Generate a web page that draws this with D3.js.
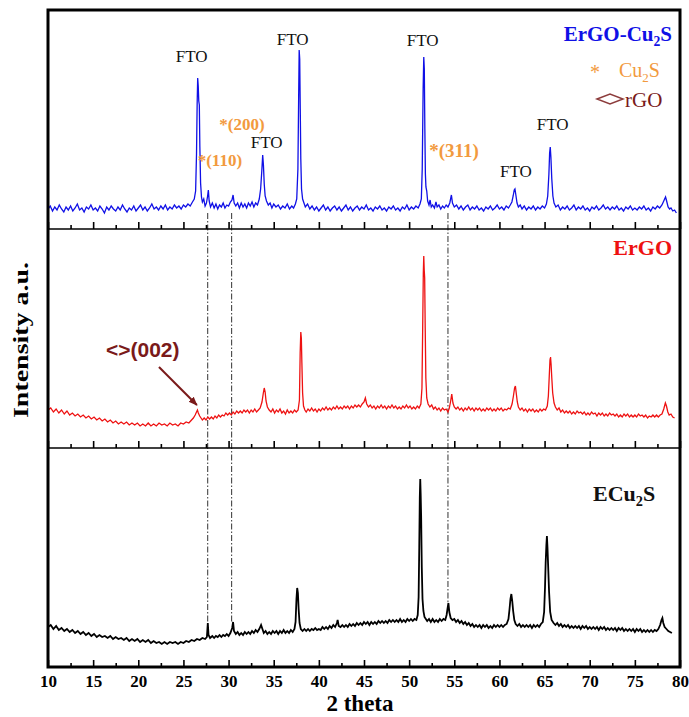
<!DOCTYPE html>
<html><head><meta charset="utf-8">
<script src="https://cdn.jsdelivr.net/npm/d3@7/dist/d3.min.js"></script>
<style>body{margin:0;background:#fff}svg{display:block}</style>
</head><body>
<svg id="chart" width="689" height="717"></svg>
<script>
// ---------- DATA ----------
const majorTicks = [10,15,20,25,30,35,40,45,50,55,60,65,70,75,80];
const minorTicks = [12.5,17.5,22.5,27.5,32.5,37.5,42.5,47.5,52.5,57.5,62.5,67.5,72.5,77.5];

// ErGO-Cu2S (top panel) [2theta, intensity a.u.]
const ergoCu2S = [[10,20],[10.25,23],[10.5,18],[10.75,22],[11,19],[11.25,24],[11.5,20],[11.75,17],[12,22],[12.25,19],[12.5,23],[12.75,18],[13,21],[13.25,25],[13.5,19],[13.75,21],[14,17],[14.25,22],[14.5,20],[14.75,24],[15,19],[15.25,21],[15.5,18],[15.75,23],[16,20],[16.25,16],[16.5,22],[16.75,19],[17,23],[17.25,20],[17.5,18],[17.75,22],[18,19],[18.25,24],[18.5,20],[18.75,17],[19,21],[19.25,19],[19.5,23],[19.75,18],[20,21],[20.25,24],[20.5,19],[20.75,22],[21,18],[21.25,21],[21.5,25],[21.75,20],[22,22],[22.25,19],[22.5,23],[22.75,20],[23,24],[23.25,19],[23.5,22],[23.75,20],[24,24],[24.25,21],[24.5,23],[24.75,20],[25,24],[25.25,22],[25.5,25],[25.75,23],[26,27],[26.2,30],[26.35,38],[26.45,75],[26.52,125],[26.58,151],[26.64,143],[26.7,128],[26.76,124],[26.82,82],[26.9,46],[27,32],[27.1,27],[27.25,30],[27.4,23],[27.55,26],[27.68,33],[27.76,39],[27.85,28],[28,22],[28.2,26],[28.4,21],[28.6,25],[28.8,20],[29,24],[29.2,22],[29.4,26],[29.6,21],[29.8,24],[30,23],[30.2,27],[30.38,29],[30.5,34],[30.62,26],[30.8,23],[31,26],[31.2,21],[31.4,26],[31.6,22],[31.8,25],[32,21],[32.2,26],[32.4,23],[32.6,27],[32.8,22],[33,26],[33.2,24],[33.4,30],[33.55,40],[33.68,58],[33.78,74],[33.86,64],[33.95,45],[34.05,33],[34.2,28],[34.4,24],[34.6,26],[34.8,21],[35,25],[35.25,22],[35.5,24],[35.75,20],[36,23],[36.25,21],[36.5,25],[36.75,20],[37,23],[37.2,21],[37.4,25],[37.55,30],[37.68,60],[37.76,130],[37.82,179],[37.88,170],[37.94,120],[38,70],[38.08,40],[38.2,30],[38.35,26],[38.5,22],[38.75,25],[39,20],[39.25,23],[39.5,19],[39.75,22],[40,18],[40.25,21],[40.5,24],[40.75,19],[41,22],[41.25,18],[41.5,21],[41.75,23],[42,19],[42.25,22],[42.5,18],[42.75,21],[43,24],[43.25,19],[43.5,22],[43.75,18],[44,21],[44.25,23],[44.5,19],[44.75,22],[45,20],[45.25,24],[45.5,19],[45.75,21],[46,18],[46.25,22],[46.5,20],[46.75,23],[47,19],[47.25,21],[47.5,18],[47.75,22],[48,20],[48.25,23],[48.5,19],[48.75,21],[49,18],[49.25,22],[49.5,20],[49.75,24],[50,19],[50.25,22],[50.5,20],[50.75,23],[51,21],[51.2,25],[51.35,30],[51.45,60],[51.55,140],[51.62,172],[51.68,160],[51.74,100],[51.8,55],[51.86,42],[51.95,38],[52.05,28],[52.2,24],[52.32,29],[52.45,22],[52.6,24],[52.8,21],[52.97,27],[53.1,22],[53.3,24],[53.5,20],[53.7,23],[53.9,21],[54.1,24],[54.3,22],[54.5,26],[54.68,34],[54.8,26],[55,22],[55.25,24],[55.5,20],[55.75,23],[56,19],[56.25,22],[56.5,24],[56.75,19],[57,22],[57.25,20],[57.5,23],[57.75,19],[58,21],[58.25,18],[58.5,22],[58.75,20],[59,23],[59.25,19],[59.5,21],[59.75,24],[60,20],[60.25,22],[60.5,19],[60.75,23],[61,21],[61.2,24],[61.38,27],[61.52,33],[61.64,39],[61.72,40],[61.82,34],[61.95,26],[62.1,22],[62.3,24],[62.5,20],[62.75,23],[63,19],[63.25,22],[63.5,20],[63.75,23],[64,19],[64.25,22],[64.5,20],[64.75,23],[65,21],[65.2,25],[65.35,33],[65.48,55],[65.56,76],[65.63,82],[65.7,72],[65.8,50],[65.92,33],[66.05,26],[66.25,22],[66.5,24],[66.75,19],[67,22],[67.25,20],[67.5,23],[67.75,19],[68,21],[68.25,24],[68.5,19],[68.75,22],[69,20],[69.25,23],[69.5,19],[69.75,21],[70,18],[70.25,22],[70.5,20],[70.75,23],[71,19],[71.25,21],[71.5,24],[71.75,20],[72,22],[72.25,19],[72.5,22],[72.75,20],[73,23],[73.25,19],[73.5,21],[73.75,18],[74,22],[74.25,20],[74.5,23],[74.75,19],[75,21],[75.25,19],[75.5,22],[75.75,20],[76,23],[76.25,19],[76.5,21],[76.75,18],[77,22],[77.25,20],[77.5,23],[77.75,21],[78,24],[78.2,28],[78.4,32],[78.52,28],[78.68,22],[78.85,20],[79,21],[79.2,18],[79.4,19],[79.6,16]];

// ErGO (middle panel)
const ergo = [[10,38],[10.3,40],[10.6,36],[10.9,39],[11.2,35],[11.5,38],[11.8,34],[12.1,37],[12.4,33],[12.7,35],[13,32],[13.3,34],[13.6,31],[13.9,33],[14.2,30],[14.5,32],[14.8,29],[15.1,31],[15.4,28],[15.7,30],[16,27],[16.3,29],[16.6,26],[16.9,28],[17.2,25],[17.5,27],[17.8,24],[18.1,26],[18.4,24],[18.7,26],[19,23],[19.3,25],[19.6,23],[19.9,25],[20.2,22],[20.5,24],[20.8,22],[21.1,25],[21.4,22],[21.7,24],[22,22],[22.3,25],[22.6,23],[22.9,24],[23.2,22],[23.5,25],[23.8,23],[24.1,24],[24.4,22],[24.7,25],[25,24],[25.3,26],[25.6,25],[25.9,28],[26.1,30],[26.3,33],[26.45,36],[26.55,38],[26.65,35],[26.8,32],[26.95,30],[27.1,28],[27.3,30],[27.5,28],[27.7,31],[27.9,29],[28.1,31],[28.3,29],[28.5,32],[28.7,30],[28.9,33],[29.1,31],[29.3,33],[29.5,32],[29.7,35],[29.9,33],[30.1,35],[30.3,33],[30.5,36],[30.7,34],[30.9,37],[31.1,35],[31.3,37],[31.5,35],[31.7,38],[31.9,36],[32.1,38],[32.3,35],[32.5,38],[32.7,36],[32.9,39],[33.1,36],[33.3,38],[33.5,40],[33.7,46],[33.85,55],[33.95,60],[34.05,56],[34.15,47],[34.3,41],[34.5,38],[34.7,36],[34.9,39],[35.1,35],[35.3,38],[35.5,36],[35.7,39],[35.9,35],[36.1,37],[36.3,34],[36.5,38],[36.7,35],[36.9,37],[37.1,35],[37.3,38],[37.5,36],[37.7,38],[37.85,48],[37.93,95],[38,116],[38.06,110],[38.12,85],[38.2,55],[38.3,42],[38.45,38],[38.6,36],[38.8,39],[39,37],[39.2,40],[39.4,37],[39.6,39],[39.8,36],[40,39],[40.2,37],[40.4,40],[40.6,38],[40.8,41],[41,38],[41.2,40],[41.4,38],[41.6,41],[41.8,39],[42,42],[42.2,39],[42.4,41],[42.6,39],[42.8,42],[43,40],[43.2,42],[43.4,39],[43.6,42],[43.8,40],[44,43],[44.2,41],[44.4,43],[44.6,41],[44.8,44],[45,46],[45.15,50],[45.3,44],[45.5,41],[45.7,43],[45.9,40],[46.1,42],[46.3,39],[46.5,42],[46.7,40],[46.9,43],[47.1,40],[47.3,42],[47.5,39],[47.7,42],[47.9,40],[48.1,43],[48.3,40],[48.5,42],[48.7,39],[48.9,41],[49.1,39],[49.3,42],[49.5,40],[49.7,43],[49.9,40],[50.1,42],[50.3,39],[50.5,41],[50.7,39],[50.9,42],[51.1,40],[51.3,44],[51.42,60],[51.5,120],[51.57,175],[51.62,192],[51.67,178],[51.72,170],[51.78,120],[51.85,70],[51.95,50],[52.1,44],[52.3,41],[52.5,43],[52.7,39],[52.9,41],[53.1,38],[53.3,40],[53.5,37],[53.7,40],[53.9,38],[54.1,39],[54.3,36],[54.45,40],[54.6,47],[54.72,54],[54.85,45],[55,41],[55.2,39],[55.4,41],[55.6,38],[55.8,40],[56,37],[56.2,40],[56.4,38],[56.6,41],[56.8,38],[57,40],[57.2,37],[57.4,40],[57.6,38],[57.8,40],[58,37],[58.2,39],[58.4,37],[58.6,40],[58.8,38],[59,40],[59.2,37],[59.4,39],[59.6,37],[59.8,40],[60,38],[60.2,40],[60.4,37],[60.6,39],[60.8,38],[61,40],[61.2,39],[61.4,44],[61.55,52],[61.68,60],[61.77,62],[61.86,55],[61.98,46],[62.1,41],[62.3,38],[62.5,40],[62.7,37],[62.9,39],[63.1,36],[63.3,39],[63.5,37],[63.7,39],[63.9,36],[64.1,38],[64.3,36],[64.5,39],[64.7,37],[64.9,39],[65.1,38],[65.3,42],[65.42,52],[65.52,72],[65.6,88],[65.66,91],[65.72,84],[65.8,70],[65.9,55],[66.05,45],[66.2,41],[66.4,38],[66.6,40],[66.8,36],[67,38],[67.2,35],[67.4,37],[67.6,35],[67.8,37],[68,34],[68.2,36],[68.4,34],[68.6,37],[68.8,35],[69,36],[69.2,34],[69.4,36],[69.6,33],[69.8,35],[70,33],[70.2,36],[70.4,34],[70.6,35],[70.8,32],[71,35],[71.2,33],[71.4,35],[71.6,32],[71.8,34],[72,32],[72.2,35],[72.4,33],[72.6,34],[72.8,32],[73,34],[73.2,31],[73.4,33],[73.6,31],[73.8,34],[74,32],[74.2,34],[74.4,31],[74.6,33],[74.8,31],[75,33],[75.2,31],[75.4,34],[75.6,32],[75.8,33],[76,31],[76.2,33],[76.4,30],[76.6,32],[76.8,31],[77,33],[77.2,31],[77.4,33],[77.6,31],[77.8,33],[78,34],[78.2,39],[78.38,45],[78.5,42],[78.65,36],[78.8,33],[79,34],[79.2,31],[79.4,30]];

// ECu2S (bottom panel)
const ecu2s = [[10,40],[10.3,42],[10.6,38],[10.9,41],[11.2,37],[11.5,39],[11.8,36],[12.1,38],[12.4,35],[12.7,37],[13,34],[13.3,36],[13.6,33],[13.9,35],[14.2,32],[14.5,34],[14.8,31],[15.1,33],[15.4,30],[15.7,32],[16,30],[16.3,31],[16.6,29],[16.9,31],[17.2,28],[17.5,30],[17.8,28],[18.1,29],[18.4,27],[18.7,29],[19,26],[19.3,28],[19.6,26],[19.9,28],[20.2,25],[20.5,27],[20.8,25],[21.1,27],[21.4,24],[21.7,26],[22,24],[22.3,25],[22.6,23],[22.9,25],[23.2,23],[23.5,25],[23.8,24],[24.1,25],[24.4,23],[24.7,25],[25,24],[25.3,26],[25.6,25],[25.9,27],[26.2,26],[26.5,28],[26.8,27],[27.1,29],[27.4,28],[27.6,30],[27.7,44],[27.78,32],[27.95,29],[28.2,31],[28.4,29],[28.6,31],[28.8,30],[29,32],[29.2,30],[29.4,32],[29.6,31],[29.8,33],[30,31],[30.2,34],[30.4,39],[30.5,45],[30.6,36],[30.8,33],[31,35],[31.2,32],[31.4,34],[31.6,32],[31.8,35],[32,33],[32.2,35],[32.4,33],[32.6,36],[32.8,34],[33,37],[33.2,35],[33.4,38],[33.6,42],[33.75,38],[33.9,34],[34.1,36],[34.3,33],[34.5,35],[34.7,33],[34.9,36],[35.1,34],[35.3,36],[35.5,33],[35.7,36],[35.9,34],[36.1,37],[36.3,34],[36.5,36],[36.7,34],[36.9,37],[37.1,35],[37.3,38],[37.42,45],[37.52,68],[37.6,79],[37.68,74],[37.76,58],[37.86,44],[38,38],[38.2,36],[38.4,38],[38.6,36],[38.8,38],[39,36],[39.2,38],[39.4,37],[39.6,39],[39.8,37],[40,38],[40.2,37],[40.4,40],[40.6,38],[40.8,40],[41,38],[41.2,41],[41.4,39],[41.6,42],[41.8,40],[42,44],[42.08,47],[42.2,41],[42.4,40],[42.6,42],[42.8,40],[43,42],[43.2,40],[43.4,43],[43.6,41],[43.8,43],[44,41],[44.2,44],[44.4,42],[44.6,44],[44.8,42],[45,45],[45.2,43],[45.4,45],[45.6,42],[45.8,45],[46,43],[46.2,45],[46.4,43],[46.6,46],[46.8,44],[47,46],[47.2,44],[47.4,46],[47.6,44],[47.8,47],[48,45],[48.2,47],[48.4,45],[48.6,47],[48.8,45],[49,48],[49.2,45],[49.4,47],[49.6,45],[49.8,48],[50,46],[50.2,48],[50.4,46],[50.6,48],[50.8,47],[50.95,52],[51.05,70],[51.12,120],[51.18,170],[51.23,188],[51.28,172],[51.33,150],[51.4,100],[51.48,68],[51.58,56],[51.7,50],[51.85,48],[52,46],[52.2,48],[52.4,45],[52.6,48],[52.8,45],[53,47],[53.2,45],[53.4,48],[53.6,46],[53.8,48],[54,47],[54.15,52],[54.28,60],[54.35,64],[54.45,55],[54.6,49],[54.8,47],[55,48],[55.2,45],[55.4,47],[55.6,44],[55.8,46],[56,43],[56.2,45],[56.4,42],[56.6,44],[56.8,41],[57,43],[57.2,40],[57.4,42],[57.6,40],[57.8,42],[58,39],[58.2,42],[58.4,40],[58.6,42],[58.8,39],[59,41],[59.2,39],[59.4,42],[59.6,40],[59.8,42],[60,40],[60.2,42],[60.4,40],[60.6,42],[60.8,43],[61,48],[61.12,58],[61.22,68],[61.32,73],[61.42,66],[61.52,56],[61.65,47],[61.8,43],[62,41],[62.2,43],[62.4,40],[62.6,42],[62.8,40],[63,42],[63.2,40],[63.4,42],[63.6,39],[63.8,42],[64,40],[64.2,42],[64.4,40],[64.6,43],[64.8,45],[64.95,55],[65.05,80],[65.12,104],[65.2,122],[65.26,131],[65.32,120],[65.4,100],[65.5,75],[65.62,55],[65.78,47],[66,44],[66.2,42],[66.4,44],[66.6,41],[66.8,43],[67,40],[67.2,42],[67.4,40],[67.6,42],[67.8,39],[68,41],[68.2,39],[68.4,41],[68.6,39],[68.8,41],[69,38],[69.2,41],[69.4,39],[69.6,41],[69.8,38],[70,40],[70.2,38],[70.4,40],[70.6,38],[70.8,40],[71,37],[71.2,40],[71.4,38],[71.6,40],[71.8,37],[72,39],[72.2,37],[72.4,39],[72.6,37],[72.8,39],[73,36],[73.2,39],[73.4,37],[73.6,39],[73.8,36],[74,38],[74.2,36],[74.4,38],[74.6,36],[74.8,38],[75,35],[75.2,38],[75.4,36],[75.6,38],[75.8,35],[76,37],[76.2,35],[76.4,37],[76.6,35],[76.8,37],[77,35],[77.2,37],[77.4,36],[77.6,38],[77.8,42],[77.95,47],[78.05,49],[78.15,44],[78.3,40],[78.5,38],[78.7,36],[78.9,35],[79.1,34]];

// Annotations (2theta, intensity level in top panel)
const ftoLabels = [[25.91,167],[37.10,184],[34.22,81],[51.49,183],[61.83,52],[65.89,99]];
const cu2sLabels = [["*(200)",28.97,99,17],["*(110)",26.58,63,17],["*(311)",52.23,72,19]];
const refLines = [[27.69,44],[30.34,45],[54.30,64]];

// ---------- LAYOUT ----------
const svg = d3.select("#chart");
const serif = "'Liberation Serif','Times New Roman',serif";
const L = 48, R = 680, T = 10, B = 667;
const panels = [{top:10,bottom:229},{top:229,bottom:448},{top:448,bottom:667}];
const x = d3.scaleLinear().domain([10,80]).range([L,R]);
const ys = panels.map(p => d3.scaleLinear().domain([0,219]).range([p.bottom,p.top]));
const line = y => d3.line().x(d=>x(d[0])).y(d=>y(d[1]));

const blue = "#1010e6", red = "#ee1111", orange = "#f29a3e", dred = "#7a1a1a";

// reference dash-dot lines
refLines.forEach(r => {
  svg.append("line").attr("x1",x(r[0])).attr("x2",x(r[0]))
    .attr("y1",ys[0](16)).attr("y2",ys[2](r[1]))
    .attr("stroke","#333").attr("stroke-width",1).attr("stroke-dasharray","6,2,1.5,2");
});

// spectra
svg.append("path").datum(ergoCu2S).attr("d",line(ys[0])).attr("fill","none").attr("stroke",blue).attr("stroke-width",1.3);
svg.append("path").datum(ergo).attr("d",line(ys[1])).attr("fill","none").attr("stroke",red).attr("stroke-width",1.3);
svg.append("path").datum(ecu2s).attr("d",line(ys[2])).attr("fill","none").attr("stroke","#000").attr("stroke-width",1.8);

// axes (ticks inward at bottom of each panel)
panels.forEach((p,i) => {
  const g = svg.append("g").attr("transform",`translate(0,${p.bottom})`);
  const ax = d3.axisBottom(x).tickValues(majorTicks).tickSize(-7).tickPadding(8)
    .tickFormat(i===2 ? d3.format("d") : () => "");
  g.call(ax);
  const gm = svg.append("g").attr("transform",`translate(0,${p.bottom})`);
  gm.call(d3.axisBottom(x).tickValues(minorTicks).tickSize(-4).tickFormat(() => ""));
  [g,gm].forEach(s => { s.select(".domain").remove(); s.selectAll(".tick line").attr("stroke","#000").attr("stroke-width",1.6); });
  g.selectAll(".tick text").attr("font-family",serif).attr("font-size",17).attr("font-weight","bold").attr("fill","#000");
});

// frame
svg.append("rect").attr("x",L).attr("y",T).attr("width",R-L).attr("height",B-T)
  .attr("fill","none").attr("stroke","#000").attr("stroke-width",3);
[229,448].forEach(yy => svg.append("line").attr("x1",L).attr("x2",R).attr("y1",yy).attr("y2",yy)
  .attr("stroke","#000").attr("stroke-width",1.5));

// axis titles
svg.append("text").attr("x",360).attr("y",711).attr("text-anchor","middle")
  .attr("font-family",serif).attr("font-weight","bold").attr("font-size",23).text("2 theta");
svg.append("text").attr("transform","translate(28,340) rotate(-90)").attr("text-anchor","middle")
  .attr("font-family",serif).attr("font-weight","bold").attr("font-size",22)
  .attr("textLength",156).attr("lengthAdjust","spacingAndGlyphs").text("Intensity a.u.");

// FTO labels
ftoLabels.forEach(f => svg.append("text").attr("x",x(f[0])).attr("y",ys[0](f[1]))
  .attr("text-anchor","middle").attr("font-family",serif).attr("font-size",17).attr("fill","#111").text("FTO"));

// Cu2S peak labels
cu2sLabels.forEach(c => svg.append("text").attr("x",x(c[1])).attr("y",ys[0](c[2]))
  .attr("font-family",serif).attr("font-weight","bold").attr("font-size",c[3]).attr("fill",orange).text(c[0]));

// helper for subscripted text
function subText(xp, yp, parts, attrs) {
  const t = svg.append("text").attr("x",xp).attr("y",yp);
  Object.entries(attrs).forEach(([k,v]) => t.attr(k,v));
  let prevSub = false;
  parts.forEach(([s,sub]) => {
    const ts = t.append("tspan").text(s);
    if (sub) ts.attr("font-size","65%").attr("dy",5);
    else if (prevSub) ts.attr("dy",-5);
    prevSub = sub;
  });
  return t;
}

// Legend / panel titles
subText(672,41,[["ErGO-Cu",false],["2",true],["S",false]],
  {"text-anchor":"end","font-family":serif,"font-weight":"bold","font-size":21,"fill":blue});
svg.append("text").attr("x",595).attr("y",79).attr("text-anchor","middle")
  .attr("font-family",serif).attr("font-size",20).attr("fill",orange).text("*");
subText(619,77,[["Cu",false],["2",true],["S",false]],
  {"font-family":serif,"font-size":20,"fill":orange});
svg.append("path").attr("d","M597,99 L610,94 L623,99 L610,104 Z").attr("fill","none")
  .attr("stroke","#8c3c3c").attr("stroke-width",1.5);
svg.append("text").attr("x",625).attr("y",107).attr("font-family",serif).attr("font-size",21)
  .attr("fill",dred).text("rGO");

svg.append("text").attr("x",672).attr("y",255).attr("text-anchor","end")
  .attr("font-family",serif).attr("font-weight","bold").attr("font-size",22).attr("fill",red).text("ErGO");

subText(593,501,[["ECu",false],["2",true],["S",false]],
  {"font-family":serif,"font-weight":"bold","font-size":22,"fill":"#111"});

// rGO (002) annotation with arrow
const defs = svg.append("defs");
defs.append("marker").attr("id","arr").attr("viewBox","0 0 10 10").attr("refX",9).attr("refY",5)
  .attr("markerWidth",9).attr("markerHeight",9).attr("markerUnits","userSpaceOnUse").attr("orient","auto")
  .append("path").attr("d","M0,1 L10,5 L0,9 Z").attr("fill",dred);
svg.append("line").attr("x1",x(22.29)).attr("y1",ys[1](81)).attr("x2",x(26.49)).attr("y2",ys[1](43))
  .attr("stroke",dred).attr("stroke-width",2).attr("marker-end","url(#arr)");
svg.append("text").attr("x",x(16.42)).attr("y",ys[1](91))
  .attr("font-family","'Liberation Sans',Arial,sans-serif").attr("font-weight","bold").attr("font-size",21)
  .attr("fill",dred).text("<>(002)");
</script>
</body></html>
